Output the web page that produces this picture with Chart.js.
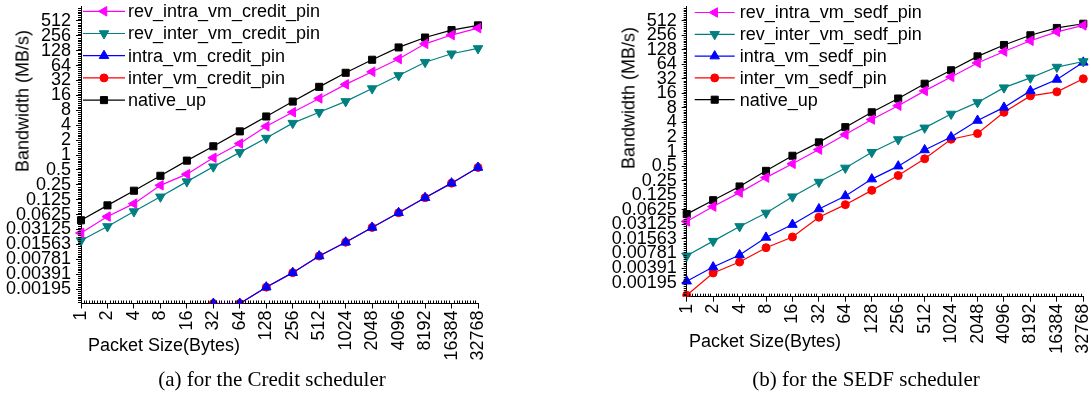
<!DOCTYPE html>
<html>
<head>
<meta charset="utf-8">
<script src="https://cdn.jsdelivr.net/npm/chart.js@4.4.1/dist/chart.umd.min.js"></script>
<style>
  html, body { margin:0; padding:0; background:#fff; }
  #wrap { position:relative; width:1091px; height:396px; overflow:hidden; background:#fff; }
  canvas { position:absolute; top:0; }
  .t { position:absolute; white-space:nowrap; font-family:"Liberation Sans", Arial, sans-serif; font-size:18px; color:#000; transform:translate(-50%,-50%); }
  .ty { transform:translate(-50%,-50%) rotate(-90deg); }
  .cap { position:absolute; white-space:nowrap; font-family:"Liberation Serif", "Times New Roman", serif; font-size:21px; color:#000; transform:translate(-50%,-50%); }
</style>
</head>
<body>
<div id="wrap">
  <canvas id="c1" width="500" height="365" style="left:0px"></canvas>
  <canvas id="c2" width="486" height="365" style="left:605px"></canvas>
  <div class="t ty" style="left:22.5px; top:101px;">Bandwidth (MB/s)</div>
  <div class="t ty" style="left:629px; top:97.5px;">Bandwidth (MB/s)</div>
  <div class="t" style="left:164px; top:345px;">Packet Size(Bytes)</div>
  <div class="t" style="left:765px; top:341px;">Packet Size(Bytes)</div>
  <div class="cap" style="left:272px; top:379px;">(a) for the Credit scheduler</div>
  <div class="cap" style="left:866px; top:379px;">(b) for the SEDF scheduler</div>
</div>
<script>
// ---- categories / ticks ----
const packetSizes = ['1','2','4','8','16','32','64','128','256','512','1024','2048','4096','8192','16384','32768'];
const yTickValues = [0.001953125,0.00390625,0.0078125,0.015625,0.03125,0.0625,0.125,0.25,0.5,1,2,4,8,16,32,64,128,256,512];
const yTickLabels = ['0.00195','0.00391','0.00781','0.01563','0.03125','0.0625','0.125','0.25','0.5','1','2','4','8','16','32','64','128','256','512'];

// ---- (a) Credit scheduler ----
const creditRevIntra = [0.0266,0.057,0.104,0.244,0.41,0.88,1.7,3.8,7.3,13.9,26.7,48,87,176,265,366];
const creditRevInter = [0.0187,0.036,0.072,0.143,0.29,0.58,1.13,2.2,4.4,7.3,12.1,22,40.5,75,111,142];
const creditIntra    = [null,null,null,null,null,0.001,0.001,0.00214,0.0042,0.0091,0.0173,0.0344,0.068,0.137,0.27,0.56];
const creditInter    = [null,null,null,null,null,0.001,0.001,0.00214,0.0042,0.0091,0.0173,0.0344,0.068,0.137,0.27,0.56];
const creditNative   = [0.048,0.096,0.19,0.38,0.77,1.5,3.0,6.0,12,23.8,45.8,84,149,236,334,415];

// ---- (b) SEDF scheduler ----
const sedfRevIntra = [0.036,0.073,0.142,0.29,0.56,1.1,2.25,4.6,8.9,18,35,68,117,196,299,407];
const sedfRevInter = [0.007,0.0141,0.0284,0.054,0.117,0.235,0.46,0.97,1.78,3.1,6.0,10.4,21,33.5,56,73];
const sedfIntra    = [0.00209,0.0041,0.0073,0.0168,0.031,0.065,0.121,0.27,0.5,1.08,2.0,4.4,8.2,18,31,70];
const sedfInter    = [0.00107,0.0031,0.0052,0.0103,0.0172,0.044,0.08,0.158,0.32,0.71,1.8,2.36,6.5,14.2,17.2,32];
const sedfNative   = [0.051,0.099,0.19,0.4,0.82,1.55,3.2,6.5,12.5,25.3,48,93,160,254,360,440];

const FONT = '"Liberation Sans", Arial, sans-serif';

function makeDatasets(labels, series) {
  const styles = [
    {color:'#ff00ff', pointStyle:'triangle', rot:-90, r:5.5},
    {color:'#008080', pointStyle:'triangle', rot:180, r:5.5},
    {color:'#0000ff', pointStyle:'triangle', rot:0, r:5.5},
    {color:'#ff0000', pointStyle:'circle', rot:0, r:4},
    {color:'#000000', pointStyle:'rect', rot:0, r:5}
  ];
  return series.map((d, i) => ({
    label: labels[i],
    data: d,
    borderColor: styles[i].color,
    backgroundColor: styles[i].color,
    pointBackgroundColor: styles[i].color,
    pointBorderColor: styles[i].color,
    pointStyle: styles[i].pointStyle,
    pointRotation: styles[i].rot,
    pointRadius: styles[i].r,
    pointBorderWidth: 1,
    borderWidth: 1.2,
    tension: 0,
    spanGaps: false,
    fill: false
  }));
}

const minorTicks = {
  id: 'minorTicks',
  afterDraw(chart) {
    const ctx = chart.ctx, a = chart.chartArea, x = chart.scales.x, y = chart.scales.y;
    ctx.save();
    ctx.strokeStyle = '#000';
    ctx.lineWidth = 1;
    ctx.beginPath();
    const n = chart.data.labels.length;
    for (let i = 0; i < n - 1; i++) {
      const p0 = x.getPixelForTick(i), p1 = x.getPixelForTick(i + 1);
      for (let k = 1; k < 10; k++) {
        const px = Math.round(p0 + (p1 - p0) * k / 10) + 0.5;
        ctx.moveTo(px, a.bottom);
        ctx.lineTo(px, a.bottom - 3);
      }
    }
    for (let e = -80; e <= 80; e++) {
      if (e % 8 === 0) continue;
      const v = Math.pow(2, e / 8);
      if (v < y.min || v > y.max) continue;
      const py = Math.round(y.getPixelForValue(v)) + 0.5;
      ctx.moveTo(a.left, py);
      ctx.lineTo(a.left - 3, py);
    }
    ctx.stroke();
    ctx.restore();
  }
};

function drawMarker(ctx, ds, x, y) {
  const opts = {pointStyle: ds.pointStyle, rotation: ds.pointRotation, radius: ds.pointRadius, borderWidth: 1};
  ctx.fillStyle = ds.backgroundColor;
  ctx.strokeStyle = ds.borderColor;
  ctx.lineWidth = 1;
  if (Chart.helpers && Chart.helpers.drawPoint) {
    Chart.helpers.drawPoint(ctx, opts, x, y);
  } else {
    ctx.beginPath(); ctx.arc(x, y, ds.pointRadius, 0, Math.PI * 2); ctx.fill();
  }
}

const lineLegend = {
  id: 'lineLegend',
  afterDatasetsDraw(chart, args, opts) {
    const ctx = chart.ctx, a = chart.chartArea;
    chart.data.datasets.forEach((ds, i) => {
      const y = opts.top + i * opts.gap;
      const x0 = a.left + opts.lineStart, x1 = a.left + opts.lineEnd;
      ctx.save();
      ctx.strokeStyle = ds.borderColor;
      ctx.lineWidth = ds.borderWidth;
      ctx.beginPath(); ctx.moveTo(x0, y); ctx.lineTo(x1, y); ctx.stroke();
      drawMarker(ctx, ds, (x0 + x1) / 2, y);
      ctx.fillStyle = '#000';
      ctx.font = '18px ' + FONT;
      ctx.textBaseline = 'middle';
      ctx.textAlign = 'left';
      ctx.fillText(ds.label, a.left + opts.textX, y + 1);
      ctx.restore();
    });
  }
};

function makeChart(id, labels, series, cfg) {
  new Chart(document.getElementById(id), {
    type: 'line',
    data: { labels: packetSizes, datasets: makeDatasets(labels, series) },
    plugins: [minorTicks, lineLegend],
    options: {
      responsive: false,
      animation: false,
      devicePixelRatio: 1,
      layout: { padding: { top: cfg.top, left: 0, right: cfg.right, bottom: 0 } },
      plugins: {
        legend: { display: false },
        tooltip: { enabled: false },
        lineLegend: cfg.legend
      },
      scales: {
        x: {
          type: 'category',
          offset: false,
          grid: { drawOnChartArea: false, drawTicks: true, tickLength: 5, color: '#000', lineWidth: 1 },
          border: { color: '#000', width: 1 },
          ticks: { autoSkip: false, maxRotation: 90, minRotation: 90, color: '#000', padding: 2, font: { family: FONT, size: 18 } },
          afterFit(s) { s.height = cfg.xHeight; s.paddingLeft = 0; s.paddingRight = 0; }
        },
        y: {
          type: 'logarithmic',
          min: 0.001,
          max: 1000,
          afterBuildTicks(s) { s.ticks = yTickValues.map(v => ({ value: v })); },
          grid: { drawOnChartArea: false, drawTicks: true, tickLength: 5, color: '#000', lineWidth: 1 },
          border: { color: '#000', width: 1 },
          ticks: {
            autoSkip: false, color: '#000', padding: 5, font: { family: FONT, size: 18 },
            callback(v) { const i = yTickValues.findIndex(t => Math.abs(t - v) / t < 1e-6); return i >= 0 ? yTickLabels[i] : ''; }
          },
          afterFit(s) { s.width = cfg.yWidth; s.paddingTop = 0; s.paddingBottom = 0; }
        }
      }
    }
  });
}

makeChart('c1',
  ['rev_intra_vm_credit_pin','rev_inter_vm_credit_pin','intra_vm_credit_pin','inter_vm_credit_pin','native_up'],
  [creditRevIntra, creditRevInter, creditIntra, creditInter, creditNative],
  { top: 3, right: 22, xHeight: 61.5, yWidth: 81, legend: { top: 11.3, gap: 22.2, lineStart: 2, lineEnd: 44, textX: 47 } });

makeChart('c2',
  ['rev_intra_vm_sedf_pin','rev_inter_vm_sedf_pin','intra_vm_sedf_pin','inter_vm_sedf_pin','native_up'],
  [sedfRevIntra, sedfRevInter, sedfIntra, sedfInter, sedfNative],
  { top: 2.7, right: 7.7, xHeight: 68.3, yWidth: 81.7, legend: { top: 12.5, gap: 21.8, lineStart: 8, lineEnd: 48, textX: 53 } });
</script>
</body>
</html>
